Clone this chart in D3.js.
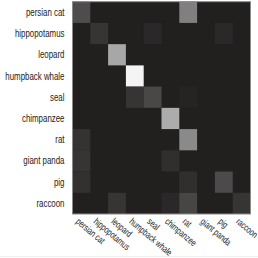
<!DOCTYPE html>
<html>
<head>
<meta charset="utf-8">
<script src="https://cdn.jsdelivr.net/npm/d3@7"></script>
<style>
  body { margin: 0; background: #fff; }
  text { font-family: "Liberation Sans", Arial, sans-serif; font-size: 10px; fill: #222; }
</style>
</head>
<body>
<div id="chart"></div>
<script>
// class names (rows = true class, columns = predicted)
var classes = ["persian cat", "hippopotamus", "leopard", "humpback whale", "seal",
  "chimpanzee", "rat", "giant panda", "pig", "raccoon"];

// confusion values, one row per true class
var rowPersianCat   = [0.21, 0, 0, 0, 0, 0, 0.45, 0, 0, 0];
var rowHippo        = [0, 0.10, 0, 0, 0.04, 0, 0, 0, 0.04, 0];
var rowLeopard      = [0, 0, 0.64, 0, 0, 0, 0, 0, 0, 0];
var rowWhale        = [0, 0, 0, 1.0, 0, 0, 0, 0, 0, 0];
var rowSeal         = [0, 0, 0, 0.10, 0.19, 0, 0.02, 0, 0, 0];
var rowChimp        = [0, 0, 0, 0, 0, 0.66, 0, 0, 0, 0];
var rowRat          = [0.09, 0, 0, 0, 0, 0, 0.50, 0, 0, 0];
var rowPanda        = [0.10, 0, 0, 0, 0, 0.07, 0, 0, 0, 0];
var rowPig          = [0.08, 0, 0, 0, 0, 0, 0.07, 0, 0.20, 0];
var rowRaccoon      = [0, 0, 0.10, 0, 0, 0.04, 0.18, 0, 0, 0.10];

var rows = [rowPersianCat, rowHippo, rowLeopard, rowWhale, rowSeal,
  rowChimp, rowRat, rowPanda, rowPig, rowRaccoon];

var width = 258, height = 258;
var plotLeft = 72.5, plotRight = 250.5, plotTop = 1.7, plotBottom = 214;

var x = d3.scaleBand().domain(classes).range([plotLeft, plotRight]);
var y = d3.scaleBand().domain(classes).range([plotTop, plotBottom]);

var color = d3.scaleLinear()
  .domain([0, 1])
  .range(["#221f1f", "#f4f4f4"]);

var svg = d3.select("#chart").append("svg")
  .attr("width", width)
  .attr("height", height);

// dark base so no seams show between cells
svg.append("rect")
  .attr("x", plotLeft)
  .attr("y", plotTop)
  .attr("width", plotRight - plotLeft)
  .attr("height", plotBottom - plotTop)
  .style("fill", color(0));

// flatten into cells
var cells = [];
rows.forEach(function(r, i) {
  r.forEach(function(v, j) {
    cells.push({ row: classes[i], col: classes[j], value: v });
  });
});

svg.selectAll("rect.cell")
  .data(cells.filter(function(d) { return d.value > 0; }))
  .enter()
  .append("rect")
    .attr("class", "cell")
    .attr("x", function(d) { return x(d.col); })
    .attr("y", function(d) { return y(d.row); })
    .attr("width", x.bandwidth())
    .attr("height", y.bandwidth())
    .style("fill", function(d) { return color(d.value); });

// frame
svg.append("rect")
  .attr("x", plotLeft)
  .attr("y", plotTop)
  .attr("width", plotRight - plotLeft)
  .attr("height", plotBottom - plotTop)
  .style("fill", "none")
  .style("stroke", "#8a8a8a")
  .style("stroke-width", 1);

// row labels (narrowed a bit to match the condensed look)
svg.selectAll("text.ylab")
  .data(classes)
  .enter()
  .append("text")
    .attr("class", "ylab")
    .attr("transform", function(d) {
      return "translate(" + (plotLeft - 8) + "," + (y(d) + y.bandwidth() / 2) + ") scale(0.79,1)";
    })
    .attr("dy", "0.35em")
    .attr("text-anchor", "end")
    .text(function(d) { return d; });

// column labels, rotated
svg.selectAll("text.xlab")
  .data(classes)
  .enter()
  .append("text")
    .attr("class", "xlab")
    .attr("transform", function(d) {
      return "translate(" + (x(d) + x.bandwidth() / 2 - 4) + "," + (plotBottom + 6) + ") rotate(40) scale(0.7,0.95)";
    })
    .attr("dy", "0.35em")
    .attr("text-anchor", "start")
    .text(function(d) { return d; });

// faint bottom rule
svg.append("line")
  .attr("x1", 0).attr("x2", width)
  .attr("y1", 256.5).attr("y2", 256.5)
  .style("stroke", "#eeeeee");
</script>
</body>
</html>
